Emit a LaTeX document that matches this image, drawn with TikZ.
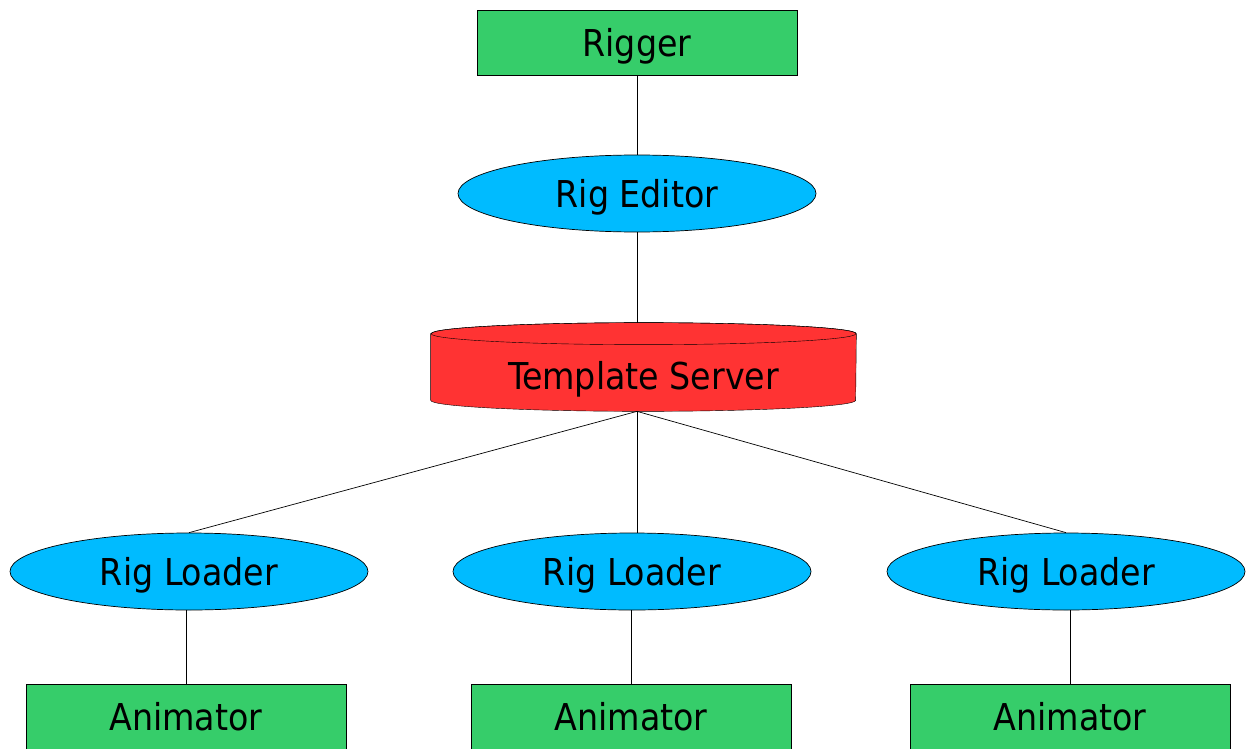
\documentclass[tikz,border=0pt]{standalone}
\usepackage{fontspec}
\setmainfont{DejaVu Sans Condensed}
\usetikzlibrary{shapes.geometric}
\usetikzlibrary{backgrounds}

\definecolor{boxgreen}{RGB}{54,205,106}
\definecolor{ellblue}{RGB}{0,187,255}
\definecolor{srvred}{RGB}{255,51,51}

\begin{document}
\begin{tikzpicture}[x=1pt,y=-1pt,font=\fontsize{37}{42}\selectfont,line width=0.7pt]
		\tikzstyle{person}=[rectangle,draw,fill=boxgreen,
			minimum width=320pt,minimum height=65pt,inner sep=0pt,text depth=0pt];
		\tikzstyle{tool}=[ellipse,draw,fill=ellblue,
			minimum width=358pt,minimum height=77pt,inner sep=0pt,text depth=0pt];
		\tikzstyle{store}=[rectangle,minimum width=425pt,minimum height=88pt,
			inner sep=0pt,text height=44pt,text depth=0pt];
		\useasboundingbox (0,0) rectangle (1247,749);

		\node[person](rig) at (637,42.5){Rigger};
		\node[tool](edit) at (637,193.5){Rig Editor};
		\node[store](srv) at (643.5,367){Template Server};
		\node[tool](ld1) at (189,571.5){Rig Loader};
		\node[tool](ld2) at (632,571.5){Rig Loader};
		\node[tool](ld3) at (1066,571.5){Rig Loader};
		\node[person](an1) at (186,716.5){Animator};
		\node[person](an2) at (631,716.5){Animator};
		\node[person](an3) at (1070,716.5){Animator};
		\coordinate(hub) at (edit.south|-srv.south);

		% cylinder body behind the server text
		\begin{scope}[on background layer]
			\filldraw[fill=srvred]([yshift=-11pt]srv.north west)--([yshift=11pt]srv.south west)
				arc[start angle=180,end angle=360,x radius=212.5pt,y radius=11pt]
				--([yshift=-11pt]srv.north east)
				arc[start angle=0,end angle=180,x radius=212.5pt,y radius=11pt]--cycle;
			\draw([yshift=-11pt]srv.north) ellipse[x radius=212.5pt,y radius=11pt];
		\end{scope}

		\draw(rig)--(edit);
		\draw(edit.south)--(edit.south|-srv.north);
		\draw(hub)--(ld1.north);
		\draw(hub)--(hub|-ld2.north);
		\draw(hub)--(ld3.north);
		\draw(an1.north)--(an1.north|-ld1.south);
		\draw(an2.north)--(an2.north|-ld2.south);
		\draw(an3.north)--(an3.north|-ld3.south);
	\end{tikzpicture}
\end{document}
